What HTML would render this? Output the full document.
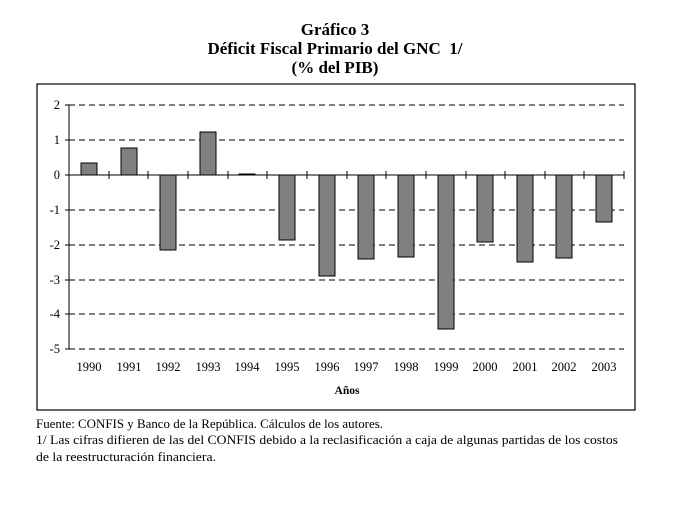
<!DOCTYPE html>
<html><head><meta charset="utf-8"><style>
body{margin:0;background:#fff;}
svg{display:block;font-family:"Liberation Serif",serif;}
</style></head><body>
<svg width="686" height="507" viewBox="0 0 686 507" xmlns="http://www.w3.org/2000/svg">
<g font-weight="bold" font-size="17" text-anchor="middle" fill="#000">
<text x="335" y="35">Gráfico 3</text>
<text x="335" y="54" xml:space="preserve">Déficit Fiscal Primario del GNC  1/</text>
<text x="335" y="73">(% del PIB)</text>
</g>
<rect x="37" y="84" width="598" height="326" fill="none" stroke="#000" stroke-width="1.2"/>
<g stroke="#000" stroke-width="1" stroke-dasharray="6,4">
<line x1="69" y1="105" x2="624" y2="105"/>
<line x1="69" y1="140" x2="624" y2="140"/>
<line x1="69" y1="210" x2="624" y2="210"/>
<line x1="69" y1="245" x2="624" y2="245"/>
<line x1="69" y1="280" x2="624" y2="280"/>
<line x1="69" y1="314" x2="624" y2="314"/>
<line x1="69" y1="349" x2="624" y2="349"/>
</g>
<g fill="#808080" stroke="#000" stroke-width="1">
<rect x="81" y="163" width="16" height="12"/>
<rect x="121" y="148" width="16" height="27"/>
<rect x="160" y="175" width="16" height="75"/>
<rect x="200" y="132" width="16" height="43"/>
<rect x="239" y="174" width="16" height="1"/>
<rect x="279" y="175" width="16" height="65"/>
<rect x="319" y="175" width="16" height="101"/>
<rect x="358" y="175" width="16" height="84"/>
<rect x="398" y="175" width="16" height="82"/>
<rect x="438" y="175" width="16" height="154"/>
<rect x="477" y="175" width="16" height="67"/>
<rect x="517" y="175" width="16" height="87"/>
<rect x="556" y="175" width="16" height="83"/>
<rect x="596" y="175" width="16" height="47"/>
</g>
<g stroke="#000" stroke-width="1">
<line x1="69" y1="105" x2="69" y2="349"/>
<line x1="69" y1="175" x2="624" y2="175"/>
<line x1="65" y1="105" x2="69" y2="105"/><line x1="65" y1="140" x2="69" y2="140"/>
<line x1="65" y1="175" x2="69" y2="175"/><line x1="65" y1="210" x2="69" y2="210"/>
<line x1="65" y1="245" x2="69" y2="245"/><line x1="65" y1="280" x2="69" y2="280"/>
<line x1="65" y1="314" x2="69" y2="314"/><line x1="65" y1="349" x2="69" y2="349"/>
<path d="M109 171v8M148 171v8M188 171v8M228 171v8M267 171v8M307 171v8M347 171v8M386 171v8M426 171v8M466 171v8M505 171v8M545 171v8M584 171v8M624 171v8"/>
</g>
<g font-size="12.5" text-anchor="end" fill="#000">
<text x="60" y="109">2</text><text x="60" y="144">1</text><text x="60" y="179">0</text>
<text x="60" y="214">-1</text><text x="60" y="249">-2</text><text x="60" y="284">-3</text>
<text x="60" y="318">-4</text><text x="60" y="353">-5</text>
</g>
<g font-size="12.5" text-anchor="middle" fill="#000">
<text x="89" y="371">1990</text><text x="129" y="371">1991</text><text x="168" y="371">1992</text>
<text x="208" y="371">1993</text><text x="247" y="371">1994</text><text x="287" y="371">1995</text>
<text x="327" y="371">1996</text><text x="366" y="371">1997</text><text x="406" y="371">1998</text>
<text x="446" y="371">1999</text><text x="485" y="371">2000</text><text x="525" y="371">2001</text>
<text x="564" y="371">2002</text><text x="604" y="371">2003</text>
<text x="347" y="394" font-weight="bold" font-size="11.5">Años</text>
</g>
<g font-size="13" fill="#000">
<text x="36" y="428" textLength="347" lengthAdjust="spacingAndGlyphs">Fuente: CONFIS y Banco de la República. Cálculos de los autores.</text>
<text x="36" y="444" textLength="582" lengthAdjust="spacingAndGlyphs">1/ Las cifras difieren de las del CONFIS debido a la reclasificación a caja de algunas partidas de los costos</text>
<text x="36" y="461" textLength="180" lengthAdjust="spacingAndGlyphs">de la reestructuración financiera.</text>
</g>
</svg>
</body></html>
